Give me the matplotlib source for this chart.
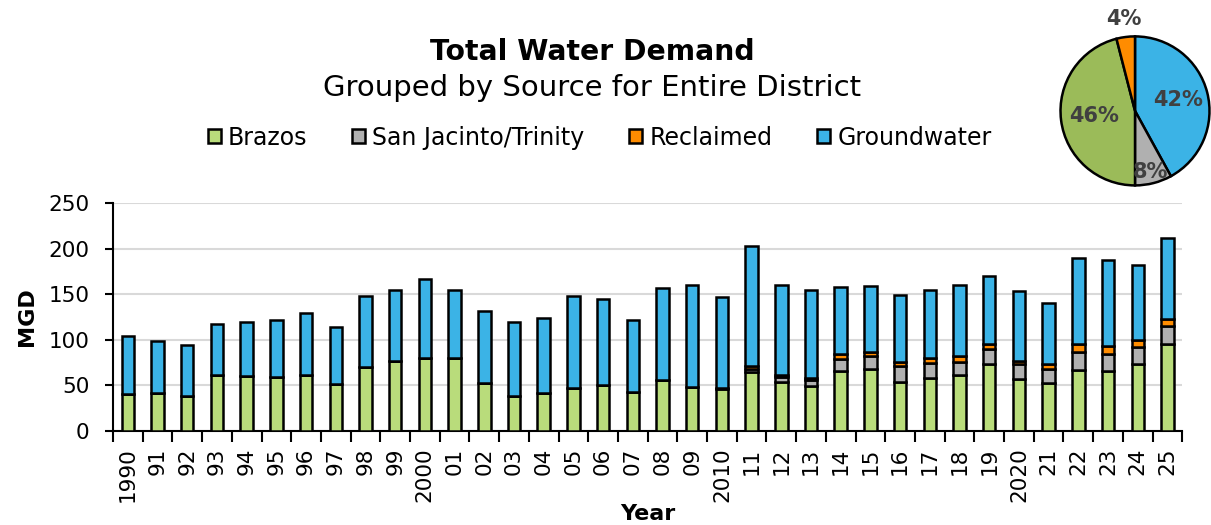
# Total water demand stacked bars + overall source share pie

import numpy as np
import matplotlib.pyplot as plt

# data
years = ["1990", "91", "92", "93", "94", "95", "96", "97", "98", "99",
         "2000", "01", "02", "03", "04", "05", "06", "07", "08", "09",
         "2010", "11", "12", "13", "14", "15", "16", "17", "18", "19",
         "2020", "21", "22", "23", "24", "25"]
brazos = [41, 42, 38, 61, 60, 59, 62, 52, 70, 77,
          80, 80, 53, 38, 42, 47, 50, 43, 56, 48,
          46, 65, 54, 49, 66, 68, 54, 58, 62, 74,
          57, 53, 67, 66, 73, 96]
san_jacinto = [0, 0, 0, 0, 0, 0, 0, 0, 0, 0,
               0, 0, 0, 0, 0, 0, 0, 0, 0, 0,
               1, 3, 5, 7, 13, 14, 17, 17, 14, 16,
               16, 15, 20, 19, 19, 19]
reclaimed = [0, 0, 0, 0, 0, 0, 0, 0, 0, 0,
             0, 0, 0, 0, 0, 0, 0, 0, 0, 0,
             0, 3, 2, 2, 5, 5, 5, 5, 6, 5,
             4, 5, 8, 8, 8, 8]
groundwater = [63, 57, 56, 56, 60, 63, 68, 62, 78, 78,
               87, 75, 79, 82, 82, 101, 95, 79, 101, 112,
               100, 132, 99, 97, 74, 72, 73, 75, 78, 75,
               77, 67, 95, 95, 82, 89]

# pie (clockwise from top)
pie_labels = ["Groundwater", "San Jacinto/Trinity", "Brazos", "Reclaimed"]
pie_share = [42, 8, 46, 4]

series_names = ["Brazos", "San Jacinto/Trinity", "Reclaimed", "Groundwater"]
bar_colors = ["#b9dc7b", "#b0b0b0", "#ff8c00", "#3bb3e6"]
pie_colors = ["#3bb3e6", "#b0b0b0", "#9bbb59", "#ff8c00"]

plt.rcParams['font.family'] = ['DejaVu Sans']

fig = plt.figure(figsize=(12.11, 5.25), dpi=100)
ax = fig.add_axes([0.0933, 0.179, 0.883, 0.434])

x = np.arange(len(years))
bottom = np.zeros(len(years))
handles = []
for name, vals, col in zip(series_names, [brazos, san_jacinto, reclaimed, groundwater], bar_colors):
    vals = np.array(vals, dtype=float)
    b = ax.bar(x, vals, 0.42, bottom=bottom, color=col, edgecolor="black",
               linewidth=1.8, label=name, zorder=3)
    bottom += vals
    handles.append(b)

ax.set_xlim(-0.5, len(years) - 0.5)
ax.set_ylim(0, 250)
ax.set_yticks(range(0, 251, 50))
ax.tick_params(axis="y", labelsize=15.5, length=6, width=1.5, pad=11, colors="black")
ax.grid(axis="y", color="#d9d9d9", linewidth=1.5, zorder=0)

# year labels at centres, tick marks between categories
ax.set_xticks(x)
ax.set_xticklabels(years, rotation=90, fontsize=15.5)
ax.tick_params(axis="x", which="major", length=0, pad=12)
ax.set_xticks(np.arange(-0.5, len(years), 1), minor=True)
ax.tick_params(axis="x", which="minor", length=8, width=1.5)

for s in ["top", "right"]:
    ax.spines[s].set_visible(False)
ax.spines["left"].set_linewidth(1.5)
ax.spines["bottom"].set_linewidth(1.5)

ax.set_ylabel("MGD", fontsize=16, fontweight="bold", labelpad=8)
ax.set_xlabel("Year", fontsize=16, fontweight="bold", labelpad=1)

# titles + legend
fig.text(0.489, 0.90, "Total Water Demand", ha="center", va="center",
         fontsize=20.3, fontweight="bold")
fig.text(0.489, 0.832, "Grouped by Source for Entire District", ha="center",
         va="center", fontsize=21)
fig.legend(handles=handles, loc="center", bbox_to_anchor=(0.495, 0.738), ncol=4,
           frameon=False, fontsize=17, handlelength=0.55, handleheight=0.55,
           handletextpad=0.3, columnspacing=1.9)

# pie in the corner
pax = fig.add_axes([0.8745, 0.644, 0.1255, 0.2895])
wedges, _ = pax.pie(pie_share, colors=pie_colors, startangle=90, counterclock=False,
                    wedgeprops=dict(edgecolor="black", linewidth=1.8))
pax.set_xlim(-1.02, 1.02)
pax.set_ylim(-1.02, 1.02)
pax.set_aspect("equal")
dists = [0.6, 0.84, 0.55, 1.25]
for w, d, share in zip(wedges, dists, pie_share):
    ang = np.deg2rad((w.theta1 + w.theta2) / 2)
    pax.text(d * np.cos(ang), d * np.sin(ang), f"{share}%", ha="center", va="center",
             fontsize=15, fontweight="bold", color="#404040", clip_on=False)

fig.savefig("out.png", dpi=100)
